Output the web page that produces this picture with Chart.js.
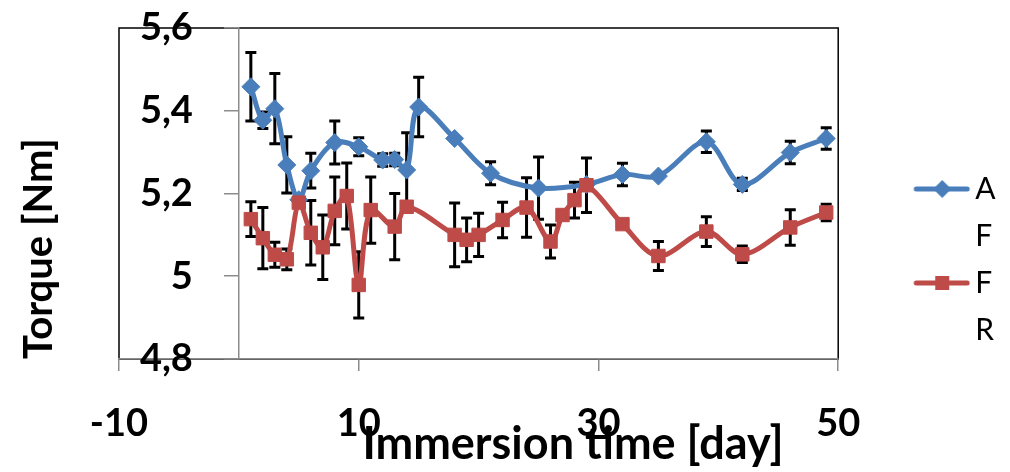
<!DOCTYPE html>
<html lang="en">
<head>
  <meta charset="UTF-8">
  <title>Torque vs immersion time</title>
  <script src="https://cdn.jsdelivr.net/npm/chart.js"></script>
  <style>
    html, body { margin: 0; padding: 0; background: #fff; }
  </style>
</head>
<body>
  <canvas id="torqueChart" width="1010" height="472"></canvas>

  <script>
    // values
    var seriesNames = ['A F', 'F R'];

    var afDays   = [1, 2, 3, 4, 5, 6, 8, 10, 12, 13, 14, 15, 18, 21, 25, 29, 32, 35, 39, 42, 46, 49];
    var afTorque = [5.458, 5.377, 5.405, 5.269, 5.185, 5.255, 5.323, 5.313, 5.281, 5.282, 5.257, 5.409, 5.333, 5.249, 5.213, 5.222, 5.246, 5.242, 5.325, 5.222, 5.299, 5.333];
    var afError  = [0.083, 0.02, 0.085, 0.068, 0, 0.042, 0.052, 0.022, 0.015, 0.015, 0.09, 0.072, 0, 0.028, 0.075, 0, 0.027, 0, 0.026, 0.015, 0.027, 0.026];

    var frDays   = [1, 2, 3, 4, 5, 6, 7, 8, 9, 10, 11, 13, 14, 18, 19, 20, 22, 24, 26, 27, 28, 29, 32, 35, 39, 42, 46, 49];
    var frTorque = [5.138, 5.092, 5.052, 5.041, 5.178, 5.105, 5.070, 5.158, 5.194, 4.979, 5.160, 5.120, 5.168, 5.100, 5.088, 5.100, 5.136, 5.166, 5.084, 5.148, 5.184, 5.220, 5.126, 5.049, 5.108, 5.053, 5.118, 5.154];
    var frError  = [0.042, 0.074, 0.03, 0.025, 0, 0.078, 0.078, 0.082, 0.08, 0.08, 0.08, 0.08, 0, 0.077, 0.053, 0.052, 0.043, 0.072, 0.04, 0, 0.043, 0.066, 0, 0.035, 0.036, 0.02, 0.043, 0.02];

    var xTicks = [-10, 10, 30, 50];
    var yTicks = [4.8, 5.0, 5.2, 5.4, 5.6];

    var blue = '#4A7EBB';
    var red = '#BE4B48';
    var axisGray = '#8C8C8C';
    var tickFont = 'bold 38px Lato';

    function points(xs, ys) {
      return xs.map(function(x, i) { return { x: x, y: ys[i] }; });
    }

    function yLabel(v) {
      return String(Math.round(v * 10) / 10).replace('.', ',');
    }

    // line + marker swatch for the legend
    function legendIcon(color, shape) {
      var c = document.createElement('canvas');
      c.width = 142; c.height = 24;
      var g = c.getContext('2d');
      g.strokeStyle = color; g.lineWidth = 5; g.lineCap = 'round';
      g.beginPath(); g.moveTo(88, 12); g.lineTo(139, 12); g.stroke();
      g.fillStyle = color;
      if (shape === 'diamond') {
        g.beginPath(); g.moveTo(114, 3); g.lineTo(123, 12); g.lineTo(114, 21); g.lineTo(105, 12); g.closePath(); g.fill();
      } else {
        g.fillRect(107, 5, 14, 14);
      }
      return c;
    }
    var legendIcons = [legendIcon(blue, 'diamond'), legendIcon(red, 'square')];

    // black box round the plot area (bottom edge is covered by the grey x axis)
    var plotBox = {
      id: 'plotBox',
      beforeDraw: function(chart) {
        var a = chart.chartArea, ctx = chart.ctx;
        ctx.save();
        ctx.strokeStyle = '#000';
        ctx.lineWidth = 1.5;
        ctx.strokeRect(a.left, a.top, a.right - a.left, a.bottom - a.top);
        ctx.restore();
      }
    };

    // y labels sit left of the axis that crosses at x = 0
    var yTickLabels = {
      id: 'yTickLabels',
      beforeDatasetsDraw: function(chart) {
        var ys = chart.scales.y, ctx = chart.ctx;
        var right = chart.scales.x.getPixelForValue(0) - 46;
        ctx.save();
        ctx.font = tickFont;
        ctx.fillStyle = '#000';
        ctx.textAlign = 'right';
        ctx.textBaseline = 'middle';
        ys.ticks.forEach(function(t) {
          ctx.fillText(yLabel(t.value), right, ys.getPixelForValue(t.value));
        });
        ctx.restore();
      }
    };

    // +/- error bars with caps
    var errorBars = {
      id: 'errorBars',
      beforeDatasetsDraw: function(chart) {
        var ctx = chart.ctx, yScale = chart.scales.y;
        ctx.save();
        ctx.strokeStyle = '#000';
        ctx.lineWidth = 3;
        chart.data.datasets.forEach(function(ds, i) {
          var meta = chart.getDatasetMeta(i);
          meta.data.forEach(function(pt, j) {
            var e = ds.errors[j];
            if (!e) return;
            var top = yScale.getPixelForValue(ds.data[j].y + e);
            var bot = yScale.getPixelForValue(ds.data[j].y - e);
            ctx.beginPath();
            ctx.moveTo(pt.x, top); ctx.lineTo(pt.x, bot);
            ctx.moveTo(pt.x - 5.5, top); ctx.lineTo(pt.x + 5.5, top);
            ctx.moveTo(pt.x - 5.5, bot); ctx.lineTo(pt.x + 5.5, bot);
            ctx.stroke();
          });
        });
        ctx.restore();
      }
    };

    var ctx = document.getElementById('torqueChart').getContext('2d');
    var torqueChart = new Chart(ctx, {
      type: 'line',
      data: {
        datasets: [{
          label: seriesNames[0],
          data: points(afDays, afTorque),
          errors: afError,
          borderColor: blue,
          backgroundColor: blue,
          borderWidth: 5,
          tension: 0.33,
          pointStyle: 'rectRot',
          pointRadius: 9,
          pointBorderWidth: 1,
          order: 1
        }, {
          label: seriesNames[1],
          data: points(frDays, frTorque),
          errors: frError,
          borderColor: red,
          backgroundColor: red,
          borderWidth: 5,
          tension: 0.33,
          pointStyle: 'rect',
          pointRadius: 9.5,
          pointBorderWidth: 1,
          order: 0
        }]
      },
      options: {
        responsive: false,
        animation: false,
        layout: { padding: { top: 28, right: 6, bottom: 0, left: 0 } },
        plugins: {
          tooltip: { enabled: false },
          legend: {
            position: 'right',
            title: { display: true, text: ' ', font: { size: 12 }, padding: { top: 0, bottom: 21.6 } },
            labels: {
              usePointStyle: true,
              pointStyleWidth: 122,
              padding: 0,
              color: '#000',
              font: { family: 'Lato', size: 30, lineHeight: 1.567 },
              generateLabels: function(chart) {
                return chart.data.datasets.map(function(ds, i) {
                  return {
                    text: ds.label.split(' '),
                    pointStyle: legendIcons[i],
                    datasetIndex: i,
                    fontColor: '#000',
                    lineWidth: 0,
                    strokeStyle: 'rgba(0,0,0,0)',
                    fillStyle: 'rgba(0,0,0,0)'
                  };
                });
              }
            }
          }
        },
        scales: {
          x: {
            type: 'linear',
            min: xTicks[0],
            max: xTicks[xTicks.length - 1],
            afterBuildTicks: function(axis) {
              axis.ticks = xTicks.map(function(v) { return { value: v }; });
            },
            grid: { drawOnChartArea: false, tickLength: 12, color: axisGray, lineWidth: 1.5 },
            border: { color: axisGray, width: 1.5 },
            ticks: {
              padding: 30.2,
              color: '#000',
              maxRotation: 0,
              font: { family: 'Lato', size: 38, weight: 'bold' }
            },
            title: {
              display: true,
              align: 'end',
              text: 'Immersion time [day]\u00a0\u00a0\u00a0\u00a0\u00a0',
              color: '#000',
              font: { family: 'Lato', size: 45, weight: 'bold' },
              padding: { top: -60, bottom: 1 }
            }
          },
          y: {
            position: { x: 0 },
            min: yTicks[0],
            max: yTicks[yTicks.length - 1],
            afterBuildTicks: function(axis) {
              axis.ticks = yTicks.map(function(v) { return { value: v }; });
            },
            grid: { drawOnChartArea: false, tickLength: 14, color: axisGray, lineWidth: 1.5 },
            border: { color: axisGray, width: 1.5 },
            ticks: { display: false }
          },
          yTitle: {
            type: 'linear',
            position: 'left',
            display: true,
            grid: { display: false, drawTicks: false },
            border: { display: false },
            ticks: { display: false },
            title: {
              display: true,
              align: 'start',
              text: 'Torque [Nm]',
              color: '#000',
              font: { family: 'Lato', size: 40, weight: 'bold' },
              padding: { top: 15, bottom: 56 }
            }
          }
        }
      },
      plugins: [plotBox, yTickLabels, errorBars]
    });
  </script>
</body>
</html>
